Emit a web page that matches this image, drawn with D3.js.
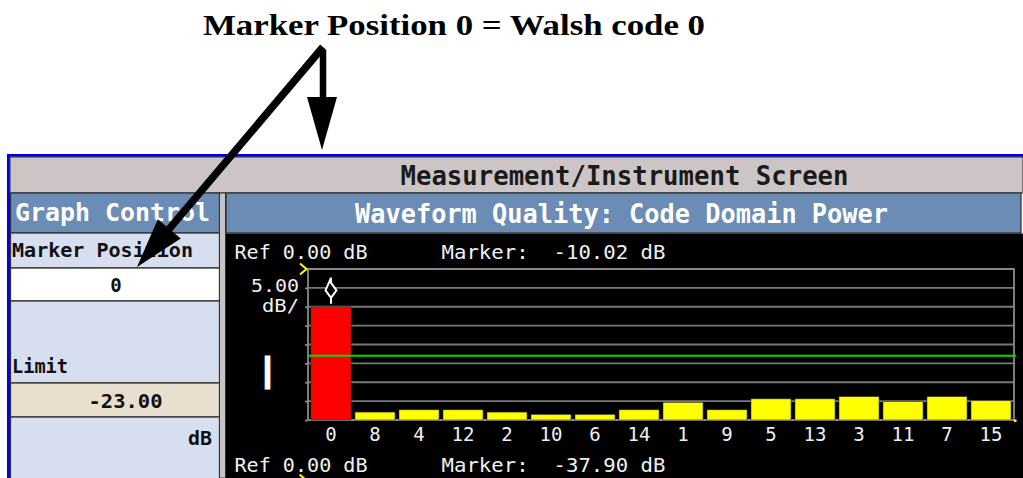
<!DOCTYPE html>
<html>
<head>
<meta charset="utf-8">
<script src="https://cdn.jsdelivr.net/npm/d3@7"></script>
<style>
  html, body { margin: 0; padding: 0; background: #ffffff; }
  svg { display: block; }
  text { white-space: pre; }
</style>
</head>
<body>
<script>
// ---------------- data ----------------
const walshCodes = ["0","8","4","12","2","10","6","14","1","9","5","13","3","11","7","15"];
const codePower  = [-10.02,-37.9,-37.3,-37.3,-37.9,-38.5,-38.5,-37.3,-35.3,-37.3,-34.4,-34.4,-33.8,-35.1,-33.8,-34.9];
const gridTicks  = [0,-5,-10,-15,-20,-25,-30,-35,-40];
const refLevel   = 0.00;
const dbPerDiv   = 5.00;
const limitLevel = -23.00;
const markerIndex = 0;
const markerReadout = [-10.02, -37.90];
const panelLabels = ["Graph Control","Marker Position","0","Limit","-23.00","dB"];
const titleText = "Marker Position 0 = Walsh code 0";
const screenTitle = "Measurement/Instrument Screen";
const graphTitle = "Waveform Quality: Code Domain Power";

// ---------------- setup ----------------
const W = 1023, H = 478;
const svg = d3.select("body").append("svg").attr("width", W).attr("height", H);
const mono = "'DejaVu Sans Mono', 'Liberation Mono', monospace";

svg.append("rect").attr("width", W).attr("height", H).attr("fill", "#ffffff");

// ---------------- instrument frame ----------------
svg.append("rect").attr("x", 7).attr("y", 154).attr("width", W - 7).attr("height", 3).attr("fill", "#0000e6");
svg.append("rect").attr("x", 7).attr("y", 154).attr("width", 3).attr("height", H - 154).attr("fill", "#0000e6");

svg.append("rect").attr("x", 10).attr("y", 157).attr("width", W - 10).attr("height", 36)
  .attr("fill", "#cdc5c5").attr("stroke", "#444").attr("stroke-width", 1.2);
svg.append("text").attr("x", 624.5).attr("y", 185).attr("text-anchor", "middle")
  .attr("font-family", mono).attr("font-weight", "bold").attr("font-size", 27)
  .attr("textLength", 448).attr("lengthAdjust", "spacingAndGlyphs")
  .attr("fill", "#1a1a1a").text(screenTitle);

const panelBg = "#d6deef";
const rows = [
  {y0: 193, y1: 233, fill: "#6b8cb5"},
  {y0: 233, y1: 268, fill: panelBg},
  {y0: 268, y1: 301, fill: "#ffffff"},
  {y0: 301, y1: 383, fill: panelBg},
  {y0: 383, y1: 417, fill: "#e8dfcf"},
  {y0: 417, y1: 480, fill: panelBg}
];
svg.append("g").selectAll("rect").data(rows).join("rect")
  .attr("x", 10.5).attr("y", d => d.y0).attr("width", 209).attr("height", d => d.y1 - d.y0)
  .attr("fill", d => d.fill).attr("stroke", "#333").attr("stroke-width", 1.3);

svg.append("rect").attr("x", 219.5).attr("y", 193).attr("width", 6).attr("height", H - 193)
  .attr("fill", "#c4c4c4").attr("stroke", "#333").attr("stroke-width", 1);

svg.append("rect").attr("x", 226).attr("y", 193).attr("width", 795).attr("height", 40)
  .attr("fill", "#6b8cb5").attr("stroke", "#333").attr("stroke-width", 1.3);
svg.append("rect").attr("x", 226).attr("y", 233.5).attr("width", W - 226).attr("height", H - 233)
  .attr("fill", "#000000");
svg.append("text").attr("x", 621.5).attr("y", 223).attr("text-anchor", "middle")
  .attr("font-family", mono).attr("font-weight", "bold").attr("font-size", 27)
  .attr("textLength", 533).attr("lengthAdjust", "spacingAndGlyphs")
  .attr("fill", "#ffffff").text(graphTitle);

const pTxt = (x, y, s, opts) => {
  const t = svg.append("text").attr("x", x).attr("y", y)
    .attr("font-family", mono).attr("font-weight", "bold")
    .attr("font-size", opts.size || 19).attr("fill", opts.fill || "#111")
    .attr("text-anchor", opts.anchor || "start").text(s);
  if (opts.len) t.attr("textLength", opts.len).attr("lengthAdjust", "spacingAndGlyphs");
  return t;
};
pTxt(15, 221, panelLabels[0], {size: 25, fill: "#ffffff", len: 195});
pTxt(12, 257, panelLabels[1], {len: 181});
pTxt(116, 292, panelLabels[2], {anchor: "middle"});
pTxt(12, 373, panelLabels[3], {len: 56});
pTxt(125.5, 408, panelLabels[4], {anchor: "middle", len: 74});
pTxt(212, 445, panelLabels[5], {anchor: "end", len: 24});

// ---------------- chart ----------------
const x = d3.scaleBand().domain(walshCodes).range([309, 1013]).paddingInner(0.09).paddingOuter(0.045);
const y = d3.scaleLinear().domain([-40, 0]).range([420, 269]);
const chart = svg.append("g");

chart.append("g").selectAll("line").data(gridTicks).join("line")
  .attr("x1", 308).attr("x2", 1014)
  .attr("y1", d => y(d)).attr("y2", d => y(d))
  .attr("stroke", "#787878").attr("stroke-width", 1.8);

chart.append("rect").attr("x", 308).attr("y", y(0)).attr("width", 1014 - 308).attr("height", y(-40) - y(0))
  .attr("fill", "none").attr("stroke", "#8a8a8a").attr("stroke-width", 1.8);

const yAxis = chart.append("g").attr("transform", "translate(308,0)")
  .call(d3.axisLeft(y).tickValues(gridTicks).tickSize(3).tickFormat(""));
yAxis.select(".domain").remove();
yAxis.selectAll("line").attr("stroke", "#8a8a8a").attr("stroke-width", 1.8);

chart.append("g").selectAll("rect").data(walshCodes).join("rect")
  .attr("x", d => x(d)).attr("width", x.bandwidth())
  .attr("y", (d, i) => y(codePower[i]))
  .attr("height", (d, i) => y(-40) - y(codePower[i]))
  .attr("fill", (d, i) => i === markerIndex ? "#ff0000" : "#ffff00")
  .attr("stroke", "#333").attr("stroke-width", 0.6);

chart.append("line").attr("x1", 308).attr("x2", 1016)
  .attr("y1", y(limitLevel)).attr("y2", y(limitLevel))
  .attr("stroke", "#00dd00").attr("stroke-width", 2);

const xAxis = chart.append("g").attr("transform", `translate(0,${y(-40)})`)
  .call(d3.axisBottom(x).tickSize(0).tickPadding(7.5));
xAxis.select(".domain").remove();
xAxis.selectAll("text").attr("fill", "#f0f0f0").attr("font-family", mono).attr("font-size", 19);

chart.append("rect").attr("x", 1014).attr("y", 419.5).attr("width", 2.5).attr("height", 2.5).attr("fill", "#ffff00");

const mx = x(walshCodes[markerIndex]) + x.bandwidth() / 2;
const mt = y(codePower[markerIndex]);
chart.append("path")
  .attr("d", `M${mx},${mt - 29}V${mt - 24}L${mx + 5.5},${mt - 16.5}L${mx},${mt - 9}L${mx - 5.5},${mt - 16.5}Z M${mx},${mt - 9}V${mt - 3}`)
  .attr("fill", "#000").attr("stroke", "#ffffff").attr("stroke-width", 2);

chart.append("path").attr("d", `M300,${y(refLevel) - 5.5}L306.5,${y(refLevel)}L300,${y(refLevel) + 5.5}`)
  .attr("fill", "none").attr("stroke", "#ffff00").attr("stroke-width", 2);
chart.append("path").attr("d", `M299.5,474.5L306,480`)
  .attr("fill", "none").attr("stroke", "#ffff00").attr("stroke-width", 2);

const cTxt = (xp, yp, s, opts) => {
  const t = svg.append("text").attr("x", xp).attr("y", yp)
    .attr("font-family", mono).attr("font-size", opts.size || 19)
    .attr("fill", "#f0f0f0").attr("text-anchor", opts.anchor || "start").text(s);
  if (opts.len) t.attr("textLength", opts.len).attr("lengthAdjust", "spacingAndGlyphs");
  return t;
};
const refStr = `Ref ${refLevel.toFixed(2)} dB`;
cTxt(234.5, 259, refStr, {len: 133});
cTxt(441.5, 259, `Marker:  ${markerReadout[0].toFixed(2)} dB`, {len: 224});
cTxt(234.5, 472, refStr, {len: 133});
cTxt(441.5, 472, `Marker:  ${markerReadout[1].toFixed(2)} dB`, {len: 224});
cTxt(299, 292, dbPerDiv.toFixed(2), {anchor: "end", len: 48, size: 17});
cTxt(299, 312, "dB/", {anchor: "end", len: 37, size: 17});
svg.append("text").attr("x", 267.5).attr("y", 389).attr("text-anchor", "middle")
  .attr("font-family", "'DejaVu Sans', sans-serif").attr("font-size", 44)
  .attr("fill", "#ffffff").attr("stroke", "#ffffff").attr("stroke-width", 1.2).text("I");

// ---------------- annotation ----------------
svg.append("text").attr("x", 203).attr("y", 35)
  .attr("font-family", "'Liberation Serif', 'DejaVu Serif', serif").attr("font-weight", "bold")
  .attr("font-size", 30).attr("textLength", 502).attr("lengthAdjust", "spacingAndGlyphs")
  .attr("fill", "#000").text(titleText);

svg.append("line").attr("x1", 323).attr("y1", 50).attr("x2", 323).attr("y2", 100)
  .attr("stroke", "#000").attr("stroke-width", 6.5);
svg.append("path").attr("d", "M307,97L337,97L322,150Z").attr("fill", "#000");

const tip = [137, 267], start = [323, 47];
const dx = tip[0] - start[0], dy = tip[1] - start[1];
const len = Math.hypot(dx, dy), ux = dx / len, uy = dy / len;
const headL = 50, headW = 15;
const base = [tip[0] - ux * headL, tip[1] - uy * headL];
svg.append("line").attr("x1", start[0]).attr("y1", start[1]).attr("x2", base[0] + ux * 4).attr("y2", base[1] + uy * 4)
  .attr("stroke", "#000").attr("stroke-width", 7.5);
svg.append("path")
  .attr("d", `M${tip[0]},${tip[1]}L${base[0] - uy * headW},${base[1] + ux * headW}L${base[0] + uy * headW},${base[1] - ux * headW}Z`)
  .attr("fill", "#000");
</script>
</body>
</html>
